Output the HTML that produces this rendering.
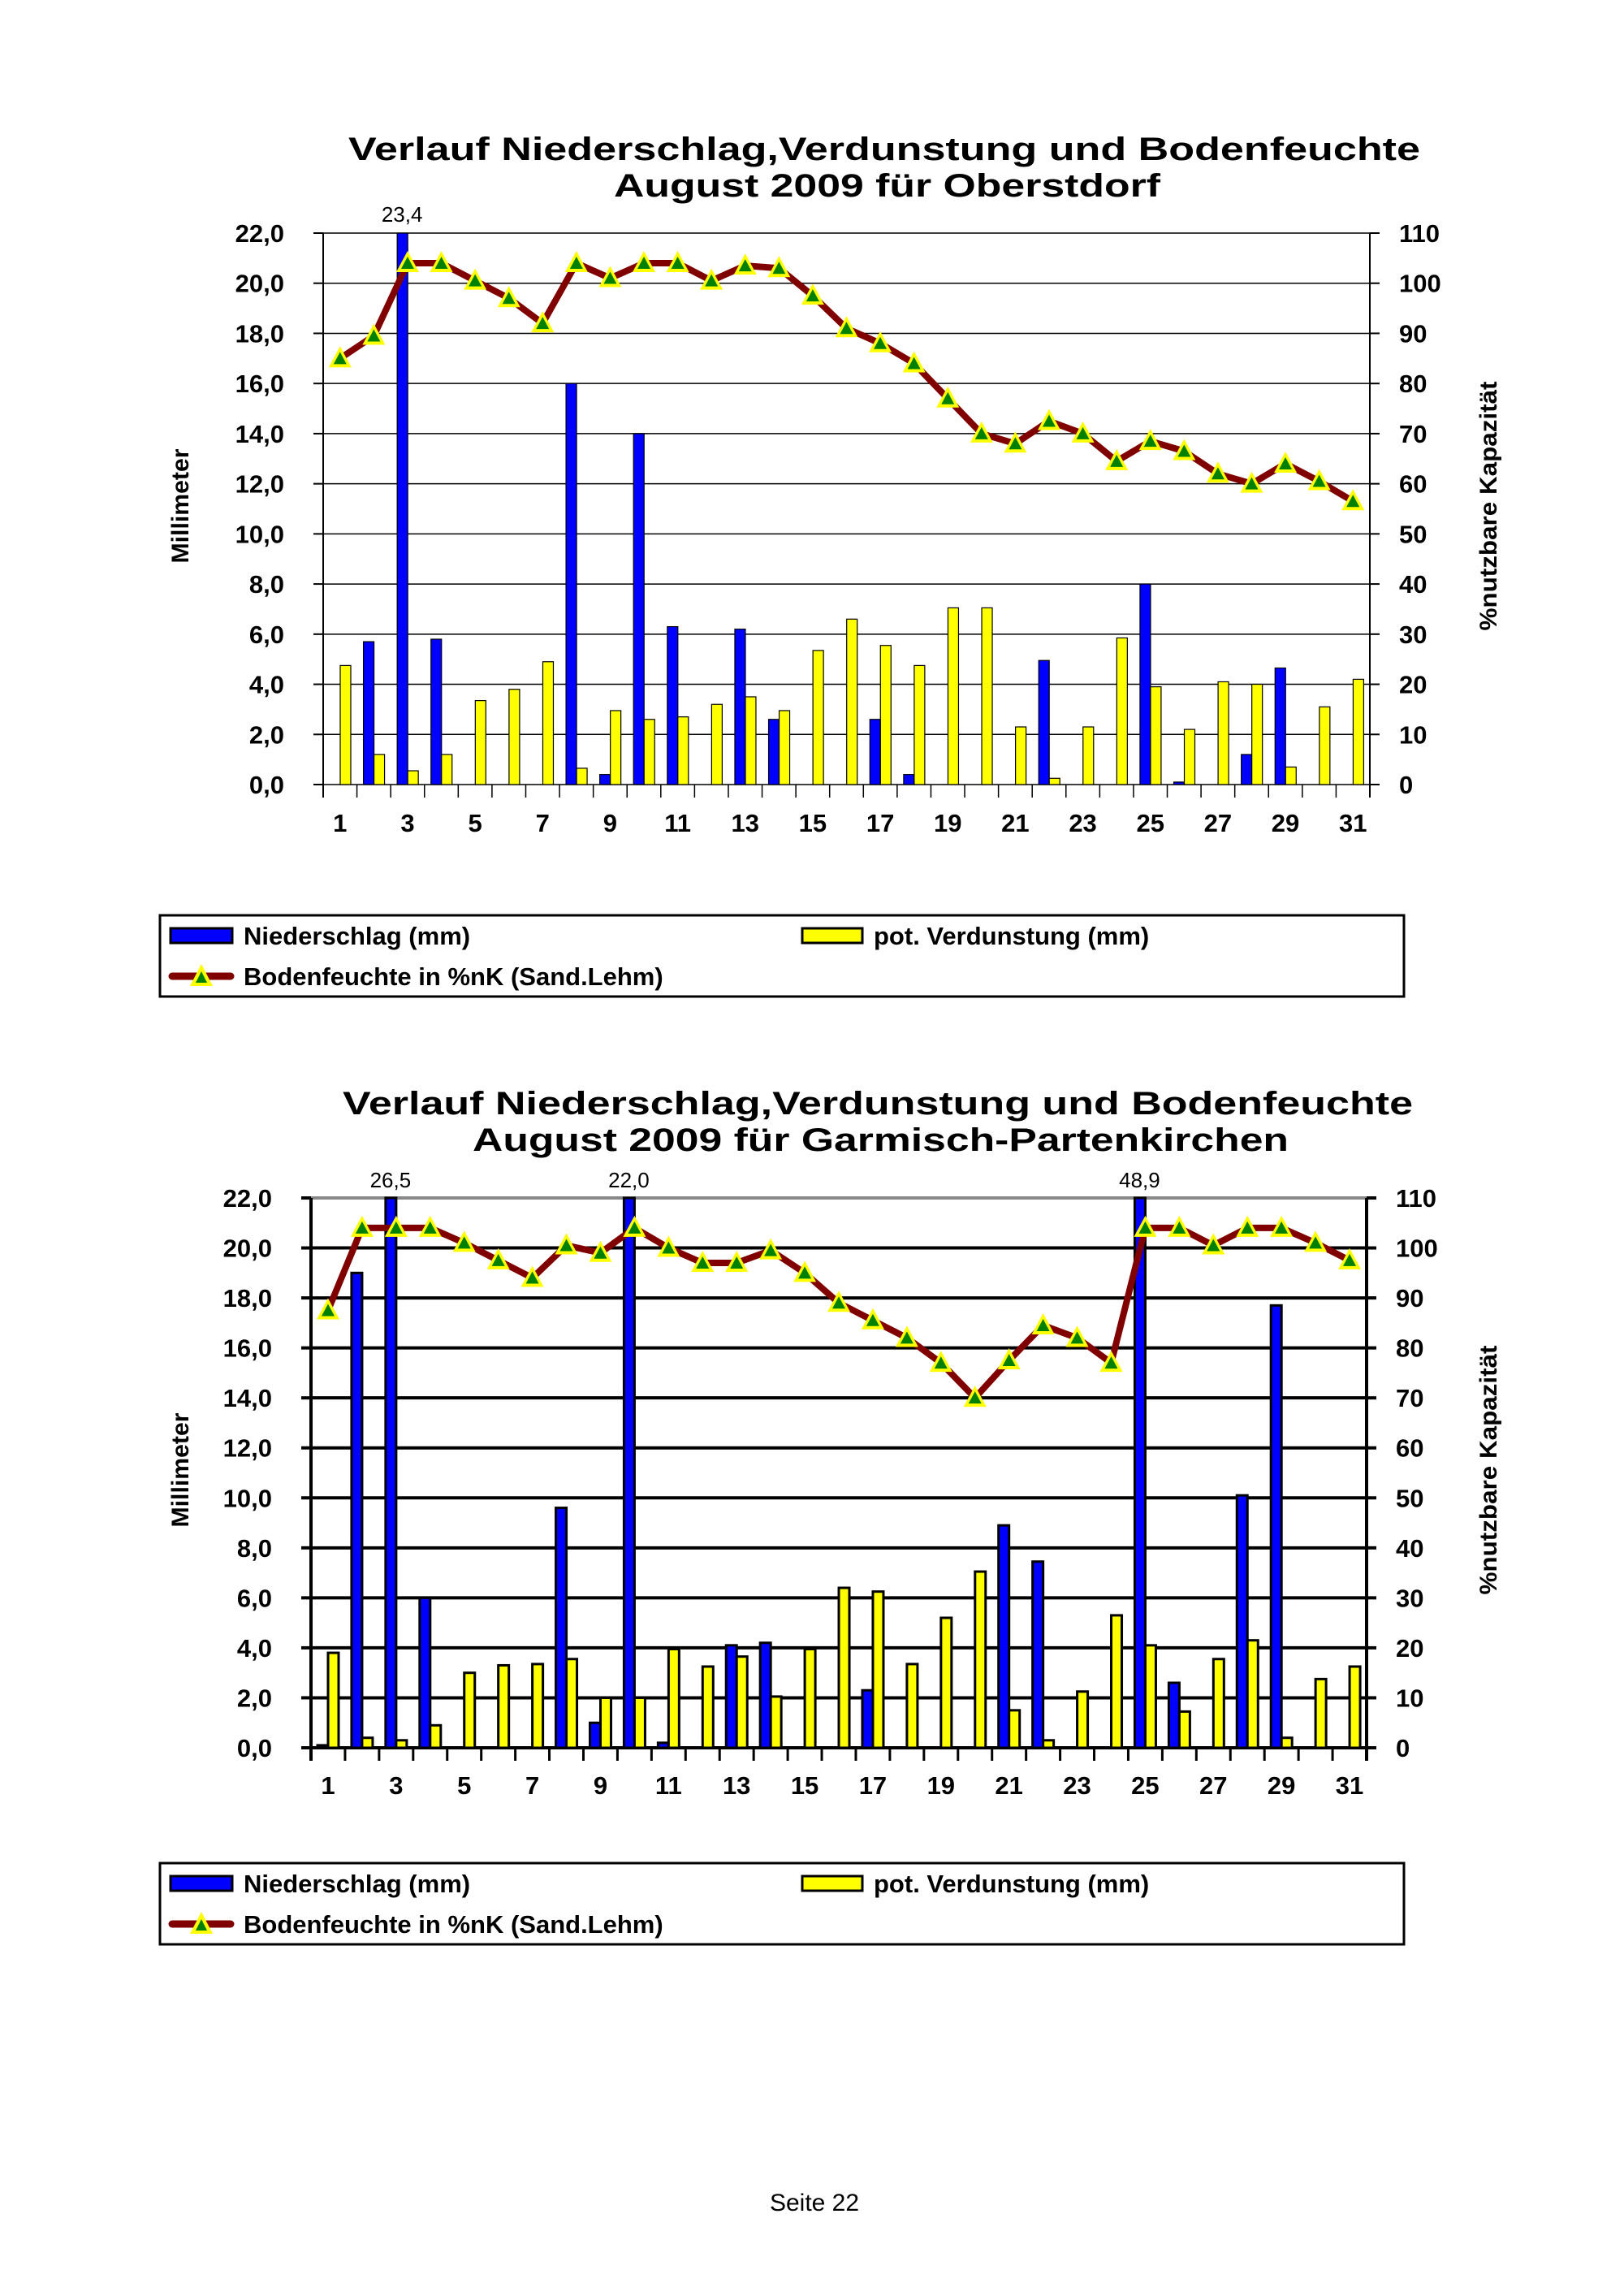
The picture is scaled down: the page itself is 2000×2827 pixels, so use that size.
<!DOCTYPE html>
<html><head><meta charset="utf-8">
<style>
html,body{margin:0;padding:0;background:#fff;}
svg{display:block;}
text{font-family:"Liberation Sans",Arial,sans-serif;}
</style></head>
<body>
<svg id="s" width="2000" height="2827" viewBox="0 0 2000 2827" xmlns="http://www.w3.org/2000/svg">
<rect width="2000" height="2827" fill="#fff"/>
<text x="1003" y="2722" font-size="30" text-anchor="middle">Seite 22</text>
</svg>
<script>
var S=document.getElementById('s');var NS='http://www.w3.org/2000/svg';
function el(t,a,txt){var e=document.createElementNS(NS,t);for(var k in a)e.setAttribute(k,a[k]);if(txt!==undefined)e.textContent=txt;S.appendChild(e);return e;}
function chart(c){
 var L=c.L,R=c.R,T=c.T,B=c.B,W=R-L,cw=W/31,k=(B-T)/22;
 el('text',{x:(c.t1[0]+c.t1[1])/2,y:c.ty1,'font-size':40,'font-weight':'bold','text-anchor':'middle',textLength:c.t1[1]-c.t1[0],lengthAdjust:'spacingAndGlyphs'},'Verlauf Niederschlag,Verdunstung und Bodenfeuchte');
 el('text',{x:(c.t2[0]+c.t2[1])/2,y:c.ty2,'font-size':40,'font-weight':'bold','text-anchor':'middle',textLength:c.t2[1]-c.t2[0],lengthAdjust:'spacingAndGlyphs'},c.sub);
 for(var i=0;i<=11;i++){var y=B-i*2*k;
  el('line',{x1:L,x2:R,y1:y,y2:y,stroke:i==11&&c.thick?'#888':'#000','stroke-width':c.thick?4:1.5});
  el('line',{x1:L-12,x2:L,y1:y,y2:y,stroke:'#000','stroke-width':c.thick?4:2});
  el('line',{x1:R,x2:R+12,y1:y,y2:y,stroke:'#000','stroke-width':c.thick?4:2});
  el('text',{x:L-48,y:y+11,'font-size':31,'font-weight':'bold','text-anchor':'end'},(i*2).toFixed(1).replace('.',','));
  el('text',{x:R+36,y:y+11,'font-size':31,'font-weight':'bold'},String(i*10));
 }
 el('line',{x1:L,x2:L,y1:T,y2:B+16,stroke:'#000','stroke-width':c.thick?4:2});
 el('line',{x1:R,x2:R,y1:T,y2:B+16,stroke:'#000','stroke-width':c.thick?4:2});
 for(var d=1;d<31;d++){var x=L+d*cw;el('line',{x1:x,x2:x,y1:B,y2:B+16,stroke:'#000','stroke-width':c.thick?3:1.5});}
 for(var d=1;d<=31;d+=2){el('text',{x:L+(d-0.5)*cw,y:c.xl,'font-size':31,'font-weight':'bold','text-anchor':'middle'},String(d));}
 var sw=c.thick?3:1.2;
 for(var d=0;d<31;d++){var cs=L+d*cw;
  var p=Math.min(c.p[d],22);if(p>0){var h=p*k;el('rect',{x:cs+8,y:B-h,width:13,height:h,fill:'#0000ff',stroke:'#000','stroke-width':sw});}
  var e=c.e[d];if(e>0){var h=e*k;el('rect',{x:cs+21,y:B-h,width:13,height:h,fill:'#ffff00',stroke:'#000','stroke-width':sw});}
 }
 c.lab.forEach(function(l){el('text',{x:L+(l[0]-1)*cw+14,y:c.ly,'font-size':26,'text-anchor':'middle'},l[1]);});
 var pts=c.s.map(function(v,d){return [L+(d+0.5)*cw,B-v/5*k];});
 el('polyline',{points:pts.map(function(p){return p.join(',')}).join(' '),fill:'none',stroke:'#800000','stroke-width':8,'stroke-linejoin':'round'});
 pts.forEach(function(p){var x=p[0],y=p[1];
  el('polygon',{points:(x-14)+','+(y+11)+' '+(x+14)+','+(y+11)+' '+x+','+(y-15),fill:'#ffff00'});
  el('polygon',{points:(x-8)+','+(y+7)+' '+(x+8)+','+(y+7)+' '+x+','+(y-8),fill:'#008000'});
 });
 el('text',{transform:'translate(232,'+c.ay+') rotate(-90)','font-size':30,'font-weight':'bold','text-anchor':'middle',textLength:141,lengthAdjust:'spacingAndGlyphs'},'Millimeter');
 el('text',{transform:'translate(1843,'+c.ay+') rotate(-90)','font-size':30,'font-weight':'bold','text-anchor':'middle',textLength:307,lengthAdjust:'spacingAndGlyphs'},'%nutzbare Kapazität');
 var g=c.g;
 el('rect',{x:197,y:g,width:1532,height:100,fill:'#fff',stroke:'#000','stroke-width':3});
 el('rect',{x:210,y:g+16,width:76,height:18,fill:'#0000ff',stroke:'#000','stroke-width':3});
 el('text',{x:300,y:g+36,'font-size':31,'font-weight':'bold'},'Niederschlag (mm)');
 el('rect',{x:988,y:g+16,width:74,height:18,fill:'#ffff00',stroke:'#000','stroke-width':3});
 el('text',{x:1076,y:g+36,'font-size':31,'font-weight':'bold'},'pot. Verdunstung (mm)');
 el('line',{x1:212,x2:284,y1:g+75,y2:g+75,stroke:'#800000','stroke-width':9,'stroke-linecap':'round'});
 el('polygon',{points:'234,'+(g+87)+' 262,'+(g+87)+' 248,'+(g+60),fill:'#ffff00'});
 el('polygon',{points:'241,'+(g+83)+' 255,'+(g+83)+' 248,'+(g+69),fill:'#008000'});
 el('text',{x:300,y:g+86,'font-size':31,'font-weight':'bold'},'Bodenfeuchte in %nK (Sand.Lehm)');
}
chart({L:398,R:1687,T:287,B:966,thick:false,t1:[429,1749],t2:[756,1429],ty1:197,ty2:242,sub:'August 2009 für Oberstdorf',xl:1024,ly:273,ay:623,g:1127,
 lab:[[3,'23,4']],
 p:[0,5.7,23.4,5.8,0,0,0,16,0.4,14,6.3,0,6.2,2.6,0,0,2.6,0.4,0,0,0,4.95,0,0,8,0.1,0,1.2,4.65,0,0],
 e:[4.75,1.2,0.55,1.2,3.35,3.8,4.9,0.65,2.95,2.6,2.7,3.2,3.5,2.95,5.35,6.6,5.55,4.75,7.05,7.05,2.3,0.25,2.3,5.85,3.9,2.2,4.1,4.0,0.7,3.1,4.2],
 s:[85,89.5,104,104,100.5,97,92,104,101,104,104,100.5,103.5,103,97.5,91,88,84,77,70,68,72.5,70,64.5,68.5,66.5,62,60,64,60.5,56.5]});
chart({L:383,R:1683,T:1475,B:2152,thick:true,t1:[422,1740],t2:[582,1587],ty1:1372,ty2:1417,sub:'August 2009 für Garmisch-Partenkirchen',xl:2209,ly:1462,ay:1810,g:2294,
 lab:[[3,'26,5'],[10,'22,0'],[25,'48,9']],
 p:[0.1,19,26.5,6,0,0,0,9.6,1,22,0.2,0,4.1,4.2,0,0,2.3,0,0,0,8.9,7.45,0,0,48.9,2.6,0,10.1,17.7,0,0],
 e:[3.8,0.4,0.3,0.9,3.0,3.3,3.35,3.55,2.0,2.0,3.95,3.25,3.65,2.05,3.95,6.4,6.25,3.35,5.2,7.05,1.5,0.3,2.25,5.3,4.1,1.45,3.55,4.3,0.4,2.75,3.25],
 s:[87.5,104,104,104,101,97.5,94,100.5,99,104,100,97,97,99.5,95,89,85.5,82,77,70,77.5,84.5,82,77,104,104,100.5,104,104,101,97.5]});
</script>
</body></html>
